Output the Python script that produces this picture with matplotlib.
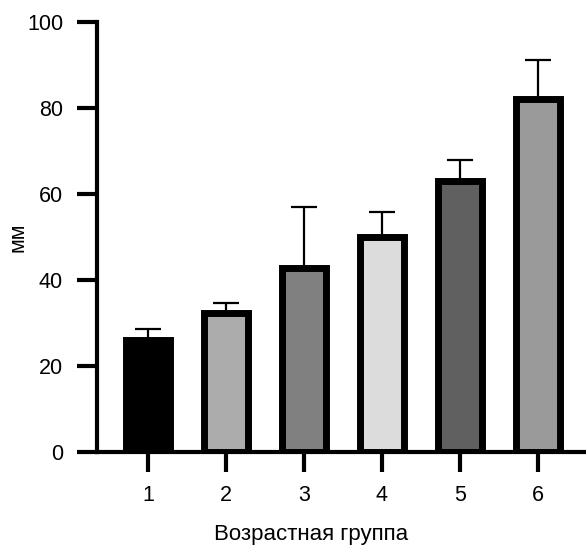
import numpy as np
import matplotlib.pyplot as plt

plt.rcParams['font.family'] = ['Liberation Sans', 'DejaVu Sans']

# data
groups = ['1', '2', '3', '4', '5', '6']
means = [26.0, 32.4, 42.9, 49.9, 63.0, 82.0]
errs = [2.7, 2.3, 14.0, 5.8, 4.9, 9.2]
colors = ['#000000', '#acacac', '#808080', '#dcdcdc', '#606060', '#9a9a9a']

fig = plt.figure(figsize=(5.86, 5.46), dpi=100)
ax = fig.add_axes([97/586, 1 - 452/546, 1 - 97/586, 430/546])

x = np.arange(1, len(groups) + 1)
ax.errorbar(x, means, yerr=[np.zeros(len(errs)), errs], fmt='none',
            ecolor='black', elinewidth=1.6, capsize=9.4, capthick=1.6, zorder=1)
ax.bar(x, means, width=0.566, color=colors, edgecolor='black', linewidth=5, zorder=2)

ax.set_xlim(0.34, 6.62)
ax.set_ylim(0, 100)
ax.set_yticks([0, 20, 40, 60, 80, 100])
ax.set_xticks(x)
ax.set_xticklabels(groups)

for s in ['top', 'right']:
    ax.spines[s].set_visible(False)
for s in ['left', 'bottom']:
    ax.spines[s].set_linewidth(3)
    ax.spines[s].set_zorder(3)

ax.tick_params(axis='both', length=14.4, width=3, labelsize=15.5)
ax.tick_params(axis='y', pad=10)
ax.tick_params(axis='x', pad=9.4)

ax.set_xlabel('Возрастная группа', fontsize=16)
ax.xaxis.set_label_coords(0.4376, -0.168)
ax.set_ylabel('мм', fontsize=15.5)
ax.yaxis.set_label_coords(-0.14, 0.5)

fig.savefig('out.png', dpi=100)
